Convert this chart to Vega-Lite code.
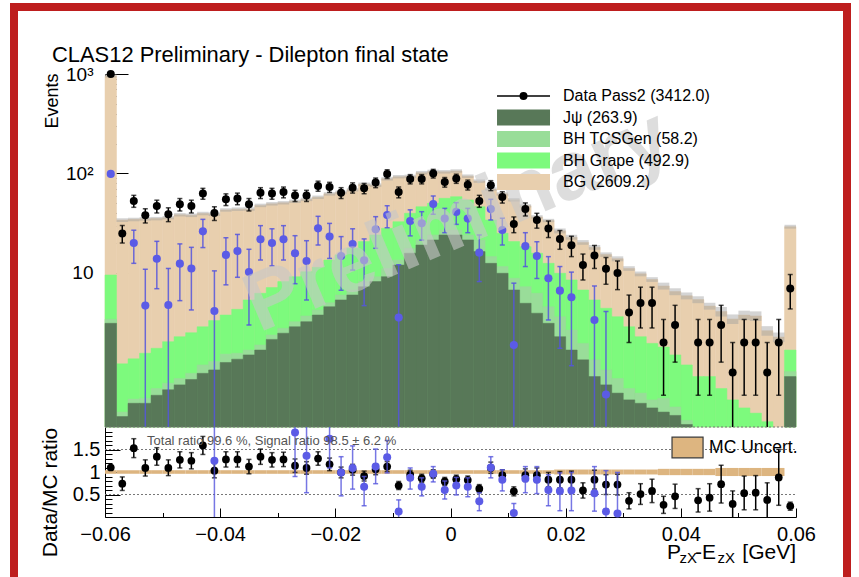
{
"$schema":"https://vega.github.io/schema/vega-lite/v6.json",
"width":833,"height":574,
"autosize":{"type":"none"},
"padding":{"left":14,"top":7,"right":12,"bottom":-4},
"background":"white",
"config":{"view":{"stroke":"#be1e1e","strokeWidth":8},"font":"Liberation Sans",
 "axis":{"domainColor":"black","tickColor":"black","labelColor":"black","titleColor":"black","labelFont":"Liberation Sans","titleFont":"Liberation Sans","titleFontWeight":"normal","grid":false,"labelFlush":false,"labelOverlap":false,"labelBound":false,"domainWidth":1,"tickWidth":1,"zindex":1}},
"datasets":{
"hist":[
{"xl":-0.06,"xh":-0.058,"c1":3.12,"c2":3.43,"c3":9.55,"c4":960,"glo":921.6,"ghi":998.4,"ulo":0.96,"uhi":1.04},
{"xl":-0.058,"xh":-0.056,"c1":0.36,"c2":0.4,"c3":1.22,"c4":34,"glo":32.6,"ghi":35.4,"ulo":0.96,"uhi":1.04},
{"xl":-0.056,"xh":-0.054,"c1":0.49,"c2":0.54,"c3":1.37,"c4":34.6,"glo":33.2,"ghi":36.0,"ulo":0.96,"uhi":1.04},
{"xl":-0.054,"xh":-0.052,"c1":0.49,"c2":0.55,"c3":1.56,"c4":35,"glo":33.6,"ghi":36.4,"ulo":0.96,"uhi":1.04},
{"xl":-0.052,"xh":-0.05,"c1":0.59,"c2":0.69,"c3":1.75,"c4":35.2,"glo":33.8,"ghi":36.6,"ulo":0.96,"uhi":1.04},
{"xl":-0.05,"xh":-0.048,"c1":0.67,"c2":0.78,"c3":2.04,"c4":36,"glo":34.6,"ghi":37.4,"ulo":0.96,"uhi":1.04},
{"xl":-0.048,"xh":-0.046,"c1":0.75,"c2":0.87,"c3":2.29,"c4":38.5,"glo":37.0,"ghi":40.0,"ulo":0.96,"uhi":1.04},
{"xl":-0.046,"xh":-0.044,"c1":0.85,"c2":0.98,"c3":2.51,"c4":38,"glo":36.5,"ghi":39.5,"ulo":0.96,"uhi":1.04},
{"xl":-0.044,"xh":-0.042,"c1":0.98,"c2":1.19,"c3":2.88,"c4":39.6,"glo":38.0,"ghi":41.2,"ulo":0.96,"uhi":1.04},
{"xl":-0.042,"xh":-0.04,"c1":1.06,"c2":1.29,"c3":3.32,"c4":39,"glo":37.4,"ghi":40.6,"ulo":0.96,"uhi":1.04},
{"xl":-0.04,"xh":-0.038,"c1":1.26,"c2":1.53,"c3":3.78,"c4":43,"glo":41.3,"ghi":44.7,"ulo":0.96,"uhi":1.04},
{"xl":-0.038,"xh":-0.036,"c1":1.36,"c2":1.56,"c3":4.31,"c4":43.8,"glo":42.0,"ghi":45.6,"ulo":0.96,"uhi":1.04},
{"xl":-0.036,"xh":-0.034,"c1":1.5,"c2":1.68,"c3":5.36,"c4":44,"glo":42.2,"ghi":45.8,"ulo":0.96,"uhi":1.04},
{"xl":-0.034,"xh":-0.032,"c1":1.68,"c2":1.89,"c3":6.25,"c4":47.8,"glo":45.9,"ghi":49.7,"ulo":0.96,"uhi":1.04},
{"xl":-0.032,"xh":-0.03,"c1":2.15,"c2":2.38,"c3":7.13,"c4":49.6,"glo":47.6,"ghi":51.6,"ulo":0.96,"uhi":1.04},
{"xl":-0.03,"xh":-0.028,"c1":2.48,"c2":2.78,"c3":8.19,"c4":50.8,"glo":48.8,"ghi":52.8,"ulo":0.96,"uhi":1.04},
{"xl":-0.028,"xh":-0.026,"c1":2.88,"c2":3.24,"c3":9.18,"c4":52.6,"glo":50.5,"ghi":54.7,"ulo":0.96,"uhi":1.04},
{"xl":-0.026,"xh":-0.024,"c1":3.24,"c2":3.7,"c3":10.3,"c4":55,"glo":52.8,"ghi":57.2,"ulo":0.96,"uhi":1.04},
{"xl":-0.024,"xh":-0.022,"c1":3.78,"c2":4.25,"c3":11.4,"c4":57.7,"glo":55.4,"ghi":60.0,"ulo":0.96,"uhi":1.04},
{"xl":-0.022,"xh":-0.02,"c1":4.58,"c2":5.03,"c3":13.5,"c4":62.4,"glo":59.9,"ghi":64.9,"ulo":0.96,"uhi":1.04},
{"xl":-0.02,"xh":-0.018,"c1":5.36,"c2":6.01,"c3":15.2,"c4":64.6,"glo":62.0,"ghi":67.2,"ulo":0.96,"uhi":1.04},
{"xl":-0.018,"xh":-0.016,"c1":6.01,"c2":6.75,"c3":17.7,"c4":68.6,"glo":65.9,"ghi":71.3,"ulo":0.96,"uhi":1.04},
{"xl":-0.016,"xh":-0.014,"c1":7.29,"c2":8.19,"c3":20.7,"c4":78,"glo":74.9,"ghi":81.1,"ulo":0.96,"uhi":1.04},
{"xl":-0.014,"xh":-0.012,"c1":8.19,"c2":9.18,"c3":24.1,"c4":76.4,"glo":73.3,"ghi":79.5,"ulo":0.96,"uhi":1.04},
{"xl":-0.012,"xh":-0.01,"c1":9.18,"c2":11.1,"c3":28.1,"c4":88.4,"glo":84.9,"ghi":91.9,"ulo":0.96,"uhi":1.04},
{"xl":-0.01,"xh":-0.008,"c1":12.0,"c2":13.5,"c3":32.8,"c4":92.9,"glo":89.2,"ghi":96.6,"ulo":0.96,"uhi":1.04},
{"xl":-0.008,"xh":-0.006,"c1":15.8,"c2":17.7,"c3":39.8,"c4":93.6,"glo":89.9,"ghi":97.3,"ulo":0.96,"uhi":1.04},
{"xl":-0.006,"xh":-0.004,"c1":19.1,"c2":21.5,"c3":46.4,"c4":102,"glo":97.9,"ghi":106.1,"ulo":0.96,"uhi":1.04},
{"xl":-0.004,"xh":-0.002,"c1":21.5,"c2":24.1,"c3":50.1,"c4":105,"glo":100.8,"ghi":109.2,"ulo":0.96,"uhi":1.04},
{"xl":-0.002,"xh":0,"c1":24.1,"c2":27.0,"c3":56.3,"c4":104,"glo":99.8,"ghi":108.2,"ulo":0.96,"uhi":1.04},
{"xl":0,"xh":0.002,"c1":24.1,"c2":27.0,"c3":58.5,"c4":106,"glo":101.8,"ghi":110.2,"ulo":0.96,"uhi":1.04},
{"xl":0.002,"xh":0.004,"c1":21.5,"c2":24.1,"c3":54.2,"c4":94,"glo":90.2,"ghi":97.8,"ulo":0.96,"uhi":1.04},
{"xl":0.004,"xh":0.006,"c1":16.4,"c2":21.5,"c3":46.4,"c4":84,"glo":80.6,"ghi":87.4,"ulo":0.96,"uhi":1.04},
{"xl":0.006,"xh":0.008,"c1":12.5,"c2":14.6,"c3":34.1,"c4":69.7,"glo":66.9,"ghi":72.5,"ulo":0.96,"uhi":1.04},
{"xl":0.008,"xh":0.01,"c1":9.93,"c2":11.6,"c3":25.1,"c4":62.4,"glo":59.9,"ghi":64.9,"ulo":0.96,"uhi":1.04},
{"xl":0.01,"xh":0.012,"c1":6.75,"c2":8.85,"c3":20.7,"c4":54.4,"glo":52.2,"ghi":56.6,"ulo":0.96,"uhi":1.04},
{"xl":0.012,"xh":0.014,"c1":4.96,"c2":7.29,"c3":18.4,"c4":47.3,"glo":45.4,"ghi":49.2,"ulo":0.96,"uhi":1.04},
{"xl":0.014,"xh":0.016,"c1":3.94,"c2":6.25,"c3":15.8,"c4":36.6,"glo":35.1,"ghi":38.1,"ulo":0.96,"uhi":1.04},
{"xl":0.016,"xh":0.018,"c1":3.12,"c2":4.58,"c3":12.5,"c4":33.7,"glo":32.4,"ghi":35.0,"ulo":0.96,"uhi":1.04},
{"xl":0.018,"xh":0.02,"c1":2.29,"c2":3.64,"c3":9.93,"c4":26.5,"glo":25.0,"ghi":28.0,"ulo":0.945,"uhi":1.055},
{"xl":0.02,"xh":0.022,"c1":1.68,"c2":2.67,"c3":8.51,"c4":22.9,"glo":21.6,"ghi":24.2,"ulo":0.945,"uhi":1.055},
{"xl":0.022,"xh":0.024,"c1":1.34,"c2":1.96,"c3":6.75,"c4":20.3,"glo":19.2,"ghi":21.4,"ulo":0.945,"uhi":1.055},
{"xl":0.024,"xh":0.026,"c1":0.91,"c2":1.34,"c3":5.36,"c4":18.1,"glo":17.1,"ghi":19.1,"ulo":0.945,"uhi":1.055},
{"xl":0.026,"xh":0.028,"c1":0.75,"c2":1.06,"c3":4.42,"c4":15.3,"glo":14.5,"ghi":16.1,"ulo":0.945,"uhi":1.055},
{"xl":0.028,"xh":0.03,"c1":0.62,"c2":0.87,"c3":3.64,"c4":13.9,"glo":13.1,"ghi":14.7,"ulo":0.945,"uhi":1.055},
{"xl":0.03,"xh":0.032,"c1":0.53,"c2":0.69,"c3":2.88,"c4":11.1,"glo":10.5,"ghi":11.7,"ulo":0.945,"uhi":1.055},
{"xl":0.032,"xh":0.034,"c1":0.49,"c2":0.62,"c3":2.29,"c4":9.8,"glo":9.26,"ghi":10.34,"ulo":0.945,"uhi":1.055},
{"xl":0.034,"xh":0.036,"c1":0.44,"c2":0.53,"c3":1.96,"c4":8.6,"glo":8.13,"ghi":9.07,"ulo":0.945,"uhi":1.055},
{"xl":0.036,"xh":0.038,"c1":0.4,"c2":0.55,"c3":1.8,"c4":7.4,"glo":6.81,"ghi":7.99,"ulo":0.93,"uhi":1.07},
{"xl":0.038,"xh":0.04,"c1":0.37,"c2":0.45,"c3":1.5,"c4":6.5,"glo":5.98,"ghi":7.02,"ulo":0.93,"uhi":1.07},
{"xl":0.04,"xh":0.042,"c1":0.3,"c2":0.33,"c3":1.19,"c4":5.9,"glo":5.43,"ghi":6.37,"ulo":0.93,"uhi":1.07},
{"xl":0.042,"xh":0.044,"c1":null,"c2":null,"c3":0.91,"c4":5.4,"glo":4.97,"ghi":5.83,"ulo":0.93,"uhi":1.07},
{"xl":0.044,"xh":0.046,"c1":null,"c2":null,"c3":0.91,"c4":4.65,"glo":4.28,"ghi":5.02,"ulo":0.93,"uhi":1.07},
{"xl":0.046,"xh":0.048,"c1":null,"c2":null,"c3":0.69,"c4":4.1,"glo":3.65,"ghi":4.55,"ulo":0.91,"uhi":1.09},
{"xl":0.048,"xh":0.05,"c1":null,"c2":null,"c3":0.53,"c4":3.45,"glo":3.07,"ghi":3.83,"ulo":0.91,"uhi":1.09},
{"xl":0.05,"xh":0.052,"c1":null,"c2":null,"c3":0.44,"c4":3.77,"glo":3.36,"ghi":4.18,"ulo":0.91,"uhi":1.09},
{"xl":0.052,"xh":0.054,"c1":null,"c2":null,"c3":0.39,"c4":3.7,"glo":3.29,"ghi":4.11,"ulo":0.91,"uhi":1.09},
{"xl":0.054,"xh":0.056,"c1":null,"c2":null,"c3":0.32,"c4":2.63,"glo":2.34,"ghi":2.92,"ulo":0.91,"uhi":1.09},
{"xl":0.056,"xh":0.058,"c1":null,"c2":null,"c3":null,"c4":2.27,"glo":2.02,"ghi":2.52,"ulo":0.91,"uhi":1.09},
{"xl":0.058,"xh":0.06,"c1":0.91,"c2":1.02,"c3":1.68,"c4":29.2,"glo":27.9,"ghi":30.5,"ulo":null,"uhi":null}
],
"pts":[
{"x":-0.059,"n":1000,"lo":968,"hi":1032,"r":1.10,"rlo":1.065,"rhi":1.135},
{"x":-0.057,"n":25,"lo":20,"hi":30,"r":0.74,"rlo":0.59,"rhi":0.89},
{"x":-0.055,"n":53,"lo":45.7,"hi":60.3,"r":1.53,"rlo":1.32,"rhi":1.74},
{"x":-0.053,"n":38,"lo":31.8,"hi":44.2,"r":1.09,"rlo":0.91,"rhi":1.27},
{"x":-0.051,"n":47,"lo":40.1,"hi":53.9,"r":1.34,"rlo":1.15,"rhi":1.54},
{"x":-0.049,"n":39,"lo":32.8,"hi":45.2,"r":1.09,"rlo":0.92,"rhi":1.27},
{"x":-0.047,"n":49,"lo":42,"hi":56,"r":1.27,"rlo":1.09,"rhi":1.45},
{"x":-0.045,"n":47,"lo":40.1,"hi":53.9,"r":1.25,"rlo":1.07,"rhi":1.43},
{"x":-0.043,"n":63,"lo":55.1,"hi":70.9,"r":1.59,"rlo":1.39,"rhi":1.79},
{"x":-0.041,"n":40,"lo":33.7,"hi":46.3,"r":1.03,"rlo":0.87,"rhi":1.19},
{"x":-0.039,"n":55,"lo":47.6,"hi":62.4,"r":1.28,"rlo":1.11,"rhi":1.45},
{"x":-0.037,"n":56,"lo":48.5,"hi":63.5,"r":1.28,"rlo":1.11,"rhi":1.45},
{"x":-0.035,"n":49,"lo":42,"hi":56,"r":1.12,"rlo":0.96,"rhi":1.28},
{"x":-0.033,"n":64,"lo":56,"hi":72,"r":1.34,"rlo":1.17,"rhi":1.51},
{"x":-0.031,"n":63,"lo":55.1,"hi":70.9,"r":1.27,"rlo":1.11,"rhi":1.43},
{"x":-0.029,"n":65,"lo":56.9,"hi":73.1,"r":1.28,"rlo":1.12,"rhi":1.44},
{"x":-0.027,"n":60,"lo":52.3,"hi":67.7,"r":1.14,"rlo":0.99,"rhi":1.29},
{"x":-0.025,"n":60,"lo":52.3,"hi":67.7,"r":1.09,"rlo":0.95,"rhi":1.23},
{"x":-0.023,"n":75,"lo":66.3,"hi":83.7,"r":1.30,"rlo":1.15,"rhi":1.45},
{"x":-0.021,"n":73,"lo":64.5,"hi":81.5,"r":1.17,"rlo":1.03,"rhi":1.31},
{"x":-0.019,"n":64,"lo":56,"hi":72,"r":0.99,"rlo":0.87,"rhi":1.11},
{"x":-0.017,"n":72,"lo":63.5,"hi":80.5,"r":1.05,"rlo":0.93,"rhi":1.17},
{"x":-0.015,"n":71,"lo":62.6,"hi":79.4,"r":0.91,"rlo":0.80,"rhi":1.02},
{"x":-0.013,"n":81,"lo":72,"hi":90,"r":1.06,"rlo":0.94,"rhi":1.18},
{"x":-0.011,"n":99,"lo":89,"hi":109,"r":1.12,"rlo":1.01,"rhi":1.23},
{"x":-0.009,"n":65,"lo":56.9,"hi":73.1,"r":0.70,"rlo":0.61,"rhi":0.79},
{"x":-0.007,"n":88,"lo":78.6,"hi":97.4,"r":0.94,"rlo":0.84,"rhi":1.04},
{"x":-0.005,"n":88,"lo":78.6,"hi":97.4,"r":0.86,"rlo":0.77,"rhi":0.95},
{"x":-0.003,"n":100,"lo":90,"hi":110,"r":0.95,"rlo":0.86,"rhi":1.05},
{"x":-0.001,"n":82,"lo":72.9,"hi":91.1,"r":0.79,"rlo":0.70,"rhi":0.88},
{"x":0.001,"n":89,"lo":79.6,"hi":98.4,"r":0.84,"rlo":0.75,"rhi":0.93},
{"x":0.003,"n":77,"lo":68.2,"hi":85.8,"r":0.82,"rlo":0.73,"rhi":0.91},
{"x":0.005,"n":53,"lo":45.7,"hi":60.3,"r":0.63,"rlo":0.54,"rhi":0.72},
{"x":0.007,"n":76,"lo":67.3,"hi":84.7,"r":1.09,"rlo":0.97,"rhi":1.22},
{"x":0.009,"n":58,"lo":50.4,"hi":65.6,"r":0.93,"rlo":0.81,"rhi":1.05},
{"x":0.011,"n":31,"lo":25.4,"hi":36.6,"r":0.57,"rlo":0.47,"rhi":0.67},
{"x":0.013,"n":44,"lo":37.4,"hi":50.6,"r":0.93,"rlo":0.79,"rhi":1.07},
{"x":0.015,"n":34,"lo":28.2,"hi":39.8,"r":0.93,"rlo":0.77,"rhi":1.09},
{"x":0.017,"n":28,"lo":22.7,"hi":33.3,"r":0.83,"rlo":0.67,"rhi":0.99},
{"x":0.019,"n":22,"lo":17.3,"hi":26.7,"r":0.83,"rlo":0.65,"rhi":1.01},
{"x":0.021,"n":19,"lo":14.6,"hi":23.4,"r":0.83,"rlo":0.64,"rhi":1.02},
{"x":0.023,"n":12,"lo":8.5,"hi":15.5,"r":0.59,"rlo":0.42,"rhi":0.76},
{"x":0.025,"n":15,"lo":11.1,"hi":18.9,"r":0.83,"rlo":0.62,"rhi":1.04},
{"x":0.027,"n":11,"lo":7.7,"hi":14.3,"r":0.72,"rlo":0.50,"rhi":0.94},
{"x":0.029,"n":10,"lo":6.8,"hi":13.2,"r":0.72,"rlo":0.49,"rhi":0.95},
{"x":0.031,"n":4,"lo":2,"hi":6,"r":0.36,"rlo":0.18,"rhi":0.54},
{"x":0.033,"n":5,"lo":2.8,"hi":7.2,"r":0.51,"rlo":0.28,"rhi":0.74},
{"x":0.035,"n":5,"lo":2.8,"hi":7.2,"r":0.58,"rlo":0.32,"rhi":0.84},
{"x":0.037,"n":2,"lo":0.59,"hi":3.41,"r":0.27,"rlo":0.08,"rhi":0.46},
{"x":0.039,"n":3,"lo":1.27,"hi":4.73,"r":0.46,"rlo":0.19,"rhi":0.73},
{"x":0.043,"n":2,"lo":0.59,"hi":3.41,"r":0.37,"rlo":0.11,"rhi":0.63},
{"x":0.045,"n":2,"lo":0.59,"hi":3.41,"r":0.43,"rlo":0.13,"rhi":0.74},
{"x":0.047,"n":3,"lo":1.27,"hi":4.73,"r":0.73,"rlo":0.31,"rhi":1.15},
{"x":0.049,"n":1,"lo":0.01,"hi":2,"r":0.29,"rlo":0,"rhi":0.58},
{"x":0.051,"n":2,"lo":0.59,"hi":3.41,"r":0.53,"rlo":0.16,"rhi":0.91},
{"x":0.053,"n":2,"lo":0.59,"hi":3.41,"r":0.54,"rlo":0.16,"rhi":0.92},
{"x":0.055,"n":1,"lo":0.01,"hi":2,"r":0.38,"rlo":0,"rhi":0.76},
{"x":0.057,"n":2,"lo":0.59,"hi":3.41,"r":0.88,"rlo":0.26,"rhi":1.5},
{"x":0.059,"n":7,"lo":4.35,"hi":9.65,"r":0.24,"rlo":0.15,"rhi":0.33}
],
"blue":[
{"x":-0.059,"v":99,"lo":99,"hi":99},
{"x":-0.055,"v":20,"lo":12.5,"hi":26.9},
{"x":-0.053,"v":4.7,"lo":0.01,"hi":10.9},
{"x":-0.051,"v":13.9,"lo":6.95,"hi":20.8},
{"x":-0.049,"v":4.77,"lo":0.01,"hi":11.1},
{"x":-0.047,"v":12.4,"lo":5.27,"hi":19.6},
{"x":-0.045,"v":11.1,"lo":4.25,"hi":18.1},
{"x":-0.043,"v":26.2,"lo":18,"hi":34.6},
{"x":-0.041,"v":4.15,"lo":0.01,"hi":10.5},
{"x":-0.039,"v":15.2,"lo":7.6,"hi":22.6},
{"x":-0.037,"v":16.6,"lo":9.05,"hi":24.4},
{"x":-0.035,"v":10.2,"lo":3.0,"hi":17.3},
{"x":-0.033,"v":21.8,"lo":13.5,"hi":29.9},
{"x":-0.031,"v":20,"lo":11.8,"hi":27.8},
{"x":-0.029,"v":21.8,"lo":13.5,"hi":29.9},
{"x":-0.027,"v":15.8,"lo":7.8,"hi":23.7},
{"x":-0.025,"v":13.2,"lo":5.35,"hi":21.1},
{"x":-0.023,"v":28.1,"lo":19.1,"hi":37.1},
{"x":-0.021,"v":23.2,"lo":14,"hi":31.5},
{"x":-0.019,"v":14.8,"lo":6.7,"hi":23.2},
{"x":-0.017,"v":19.5,"lo":10.7,"hi":27.8},
{"x":-0.015,"v":13.4,"lo":4.7,"hi":22},
{"x":-0.013,"v":27.5,"lo":17.7,"hi":36.8},
{"x":-0.011,"v":38.3,"lo":28.5,"hi":47.4},
{"x":-0.009,"v":3.56,"lo":0.01,"hi":12.1},
{"x":-0.007,"v":33.3,"lo":23.6,"hi":43.1},
{"x":-0.005,"v":31.6,"lo":21.4,"hi":41.3},
{"x":-0.003,"v":49.3,"lo":38.9,"hi":59.4},
{"x":-0.001,"v":35.2,"lo":25.4,"hi":44.6},
{"x":0.001,"v":41.1,"lo":30.8,"hi":50.9},
{"x":0.003,"v":35.2,"lo":25.4,"hi":44.6},
{"x":0.005,"v":16,"lo":8.2,"hi":24.1},
{"x":0.007,"v":44,"lo":34.1,"hi":55},
{"x":0.009,"v":27,"lo":19.1,"hi":35.5},
{"x":0.011,"v":1.89,"lo":0.01,"hi":7.9},
{"x":0.013,"v":18.6,"lo":11.6,"hi":25.4},
{"x":0.015,"v":14.8,"lo":8.8,"hi":20.6},
{"x":0.017,"v":8.84,"lo":3.37,"hi":14.6},
{"x":0.019,"v":6.64,"lo":1.75,"hi":11.6},
{"x":0.021,"v":5.7,"lo":1.17,"hi":10.2},
{"x":0.025,"v":3.37,"lo":0.01,"hi":7.4},
{"x":0.027,"v":0.6,"lo":0.01,"hi":4.1}
],
"bratio":[
{"x":-0.041,"r":1.25,"lo":0,"hi":2},
{"x":-0.027,"r":1.88,"lo":0.9,"hi":2},
{"x":-0.025,"r":1.36,"lo":0.54,"hi":2},
{"x":-0.021,"r":1.74,"lo":1.09,"hi":2},
{"x":-0.019,"r":0.99,"lo":0.47,"hi":1.34},
{"x":-0.017,"r":1.09,"lo":0.62,"hi":1.58},
{"x":-0.015,"r":0.67,"lo":0.25,"hi":0.9},
{"x":-0.013,"r":1.12,"lo":0.74,"hi":1.51},
{"x":-0.011,"r":1.33,"lo":0.98,"hi":1.7},
{"x":-0.009,"r":0.12,"lo":0,"hi":0.38},
{"x":-0.007,"r":0.87,"lo":0.62,"hi":1.09},
{"x":-0.005,"r":0.67,"lo":0.47,"hi":0.87},
{"x":-0.003,"r":0.96,"lo":0.78,"hi":1.12},
{"x":-0.001,"r":0.6,"lo":0.4,"hi":0.8},
{"x":0.001,"r":0.7,"lo":0.49,"hi":0.88},
{"x":0.003,"r":0.67,"lo":0.45,"hi":0.87},
{"x":0.005,"r":0.35,"lo":0.14,"hi":0.54},
{"x":0.007,"r":1.1,"lo":0.87,"hi":1.34},
{"x":0.009,"r":0.83,"lo":0.58,"hi":1.05},
{"x":0.011,"r":0.09,"lo":0,"hi":0.3},
{"x":0.013,"r":0.85,"lo":0.54,"hi":1.12},
{"x":0.015,"r":0.83,"lo":0.52,"hi":1.12},
{"x":0.017,"r":0.6,"lo":0.25,"hi":0.94},
{"x":0.019,"r":0.58,"lo":0.14,"hi":0.98},
{"x":0.021,"r":0.59,"lo":0.14,"hi":0.99},
{"x":0.025,"r":0.53,"lo":0.13,"hi":1.12},
{"x":0.027,"r":0.12,"lo":0,"hi":1.03},
{"x":0.029,"r":0.08,"lo":0,"hi":0.99}
],
"levels":[{"level":0.5},{"level":1.5},{"level":2}]
},
"layer":[
 {"data":{"name":"hist"},"mark":{"type":"bar","color":"#e8cfae","stroke":"#e8cfae","strokeWidth":0.5},
  "encoding":{
   "x":{"field":"xl","type":"quantitative","scale":{"type":"linear","domain":[-0.06,0.06],"range":[91,782],"nice":false,"zero":false},
     "axis":{"orient":"bottom","offset":-64,"title":null,
       "values":[-0.06,-0.055,-0.05,-0.045,-0.04,-0.035,-0.03,-0.025,-0.02,-0.015,-0.01,-0.005,0,0.005,0.01,0.015,0.02,0.025,0.03,0.035,0.04,0.045,0.05,0.055,0.06],
       "labelExpr":"indexof([-0.06,-0.04,-0.02,0,0.02,0.04,0.06], datum.value) >= 0 ? (datum.value == 0 ? '0' : format(datum.value, '.2f')) : ''",
       "labelFontSize":20,"labelPadding":16,"labelBaseline":"top",
       "tickSize":{"condition":{"test":"indexof([-0.06,-0.04,-0.02,0,0.02,0.04,0.06], datum.value) >= 0","value":-9},"value":-4.5}}},
   "x2":{"field":"xh"},
   "y":{"field":"c4","type":"quantitative","scale":{"type":"log","domain":[0.283,1000],"range":[420,67],"nice":false,"clamp":true},
     "axis":{"orient":"left","offset":-91,"title":"Events","titleFontSize":18,"titleAngle":-90,"titleAlign":"right","titleBaseline":"alphabetic","titleX":-48,"titleY":66,
       "values":[10,20,30,40,50,60,70,80,90,100,200,300,400,500,600,700,800,900,1000],
       "labelExpr":"datum.value == 10 ? '10' : datum.value == 100 ? '10²' : datum.value == 1000 ? '10³' : ''",
       "labelFontSize":19,"labelPadding":35,"labelBaseline":"middle",
       "tickSize":{"condition":{"test":"datum.value == 10 || datum.value == 100 || datum.value == 1000","value":-23},"value":-11}}},
   "y2":{"datum":0.283}}},
 {"data":{"name":"hist"},"mark":{"type":"bar","color":"#7dfa7d","stroke":"#7dfa7d","strokeWidth":0.5},
  "encoding":{"x":{"field":"xl","type":"quantitative"},"x2":{"field":"xh"},"y":{"field":"c3","type":"quantitative","scale":{"type":"log","domain":[0.283,1000],"range":[420,67],"nice":false,"clamp":true},"axis":null},"y2":{"datum":0.283}}},
 {"data":{"name":"hist"},"mark":{"type":"bar","color":"#99dd99","stroke":"#99dd99","strokeWidth":0.5},
  "encoding":{"x":{"field":"xl","type":"quantitative"},"x2":{"field":"xh"},"y":{"field":"c2","type":"quantitative","scale":{"type":"log","domain":[0.283,1000],"range":[420,67],"nice":false,"clamp":true},"axis":null},"y2":{"datum":0.283}}},
 {"data":{"name":"hist"},"mark":{"type":"bar","color":"#587858","stroke":"#587858","strokeWidth":0.5},
  "encoding":{"x":{"field":"xl","type":"quantitative"},"x2":{"field":"xh"},"y":{"field":"c1","type":"quantitative","scale":{"type":"log","domain":[0.283,1000],"range":[420,67],"nice":false,"clamp":true},"axis":null},"y2":{"datum":0.283}}},
 {"data":{"name":"hist"},"mark":{"type":"bar","color":"#a0a0a0","opacity":0.45},
  "encoding":{"x":{"field":"xl","type":"quantitative"},"x2":{"field":"xh"},"y":{"field":"glo","type":"quantitative","scale":{"type":"log","domain":[0.283,1000],"range":[420,67],"nice":false,"clamp":true},"axis":null},"y2":{"field":"ghi"}}},
 {"data":{"name":"blue"},"mark":{"type":"rule","color":"#5555dd","strokeWidth":1.5,"opacity":0.85},
  "encoding":{"x":{"field":"x","type":"quantitative"},"y":{"field":"lo","type":"quantitative","scale":{"type":"log","domain":[0.283,1000],"range":[420,67],"nice":false,"clamp":true},"axis":null},"y2":{"field":"hi"}}},
 {"data":{"name":"blue"},"transform":[{"fold":["lo","hi"],"as":["end","val"]},{"filter":"datum.val > 0.3 && datum.val < 990 && datum.val != datum.v"}],
  "mark":{"type":"tick","orient":"horizontal","size":5,"thickness":1.5,"color":"#5555dd","opacity":0.85},
  "encoding":{"x":{"field":"x","type":"quantitative"},"y":{"field":"val","type":"quantitative","scale":{"type":"log","domain":[0.283,1000],"range":[420,67],"nice":false,"clamp":true},"axis":null}}},
 {"data":{"name":"blue"},"mark":{"type":"point","filled":true,"shape":"circle","size":66,"color":"#5b5be6","opacity":1},
  "encoding":{"x":{"field":"x","type":"quantitative"},"y":{"field":"v","type":"quantitative","scale":{"type":"log","domain":[0.283,1000],"range":[420,67],"nice":false,"clamp":true},"axis":null}}},
 {"data":{"values":[{}]},"mark":{"type":"text","text":"Preliminary","fontSize":83,"fontWeight":"bold","font":"Liberation Sans","angle":-23,"align":"center","baseline":"middle","fill":"#c8c8c8","opacity":0.6},
  "encoding":{"x":{"datum":0.0012},"y":{"datum":33,"scale":{"type":"log","domain":[0.283,1000],"range":[420,67],"nice":false,"clamp":true},"axis":null}}},
 {"data":{"name":"pts"},"mark":{"type":"rule","color":"black","strokeWidth":1.5},
  "encoding":{"x":{"field":"x","type":"quantitative"},"y":{"field":"lo","type":"quantitative","scale":{"type":"log","domain":[0.283,1000],"range":[420,67],"nice":false,"clamp":true},"axis":null},"y2":{"field":"hi"}}},
 {"data":{"name":"pts"},"transform":[{"fold":["lo","hi"],"as":["end","val"]},{"filter":"datum.val > 0.3 && datum.val < 990"}],
  "mark":{"type":"tick","orient":"horizontal","size":5,"thickness":1.5,"color":"black"},
  "encoding":{"x":{"field":"x","type":"quantitative"},"y":{"field":"val","type":"quantitative","scale":{"type":"log","domain":[0.283,1000],"range":[420,67],"nice":false,"clamp":true},"axis":null}}},
 {"data":{"name":"pts"},"mark":{"type":"point","filled":true,"shape":"circle","size":64,"color":"black","opacity":1},
  "encoding":{"x":{"field":"x","type":"quantitative"},"y":{"field":"n","type":"quantitative","scale":{"type":"log","domain":[0.283,1000],"range":[420,67],"nice":false,"clamp":true},"axis":null}}},
 {"data":{"values":[{}]},"mark":{"type":"rule","color":"black","strokeWidth":1.3},
  "encoding":{"x":{"datum":0.00808},"x2":{"datum":0.01728},"y":{"datum":601,"scale":{"type":"log","domain":[0.283,1000],"range":[420,67],"nice":false,"clamp":true},"axis":null}}},
 {"data":{"values":[{}]},"mark":{"type":"point","filled":true,"shape":"circle","size":64,"color":"black","opacity":1},
  "encoding":{"x":{"datum":0.01268},"y":{"datum":601,"scale":{"type":"log","domain":[0.283,1000],"range":[420,67],"nice":false,"clamp":true},"axis":null}}},
 {"data":{"values":[{}]},"mark":{"type":"rect","color":"#587858"},
  "encoding":{"x":{"datum":0.00808},"x2":{"datum":0.01728},"y":{"datum":303.5,"scale":{"type":"log","domain":[0.283,1000],"range":[420,67],"nice":false,"clamp":true},"axis":null},"y2":{"datum":439.5}}},
 {"data":{"values":[{}]},"mark":{"type":"rect","color":"#99dd99"},
  "encoding":{"x":{"datum":0.00808},"x2":{"datum":0.01728},"y":{"datum":184.5,"scale":{"type":"log","domain":[0.283,1000],"range":[420,67],"nice":false,"clamp":true},"axis":null},"y2":{"datum":267}}},
 {"data":{"values":[{}]},"mark":{"type":"rect","color":"#7dfa7d"},
  "encoding":{"x":{"datum":0.00808},"x2":{"datum":0.01728},"y":{"datum":112.2,"scale":{"type":"log","domain":[0.283,1000],"range":[420,67],"nice":false,"clamp":true},"axis":null},"y2":{"datum":162.6}}},
 {"data":{"values":[{}]},"mark":{"type":"rect","color":"#e8cfae"},
  "encoding":{"x":{"datum":0.00808},"x2":{"datum":0.01728},"y":{"datum":68.2,"scale":{"type":"log","domain":[0.283,1000],"range":[420,67],"nice":false,"clamp":true},"axis":null},"y2":{"datum":98.9}}},
 {"data":{"values":[{}]},"mark":{"type":"text","text":"Data Pass2 (3412.0)","fontSize":16,"font":"Liberation Sans","align":"left","baseline":"middle","color":"black"},
  "encoding":{"x":{"datum":0.01954},"y":{"datum":601,"scale":{"type":"log","domain":[0.283,1000],"range":[420,67],"nice":false,"clamp":true},"axis":null}}},
 {"data":{"values":[{}]},"mark":{"type":"text","text":"Jψ (263.9)","fontSize":16,"font":"Liberation Sans","align":"left","baseline":"middle","color":"black"},
  "encoding":{"x":{"datum":0.01954},"y":{"datum":365,"scale":{"type":"log","domain":[0.283,1000],"range":[420,67],"nice":false,"clamp":true},"axis":null}}},
 {"data":{"values":[{}]},"mark":{"type":"text","text":"BH TCSGen (58.2)","fontSize":16,"font":"Liberation Sans","align":"left","baseline":"middle","color":"black"},
  "encoding":{"x":{"datum":0.01954},"y":{"datum":222,"scale":{"type":"log","domain":[0.283,1000],"range":[420,67],"nice":false,"clamp":true},"axis":null}}},
 {"data":{"values":[{}]},"mark":{"type":"text","text":"BH Grape (492.9)","fontSize":16,"font":"Liberation Sans","align":"left","baseline":"middle","color":"black"},
  "encoding":{"x":{"datum":0.01954},"y":{"datum":135,"scale":{"type":"log","domain":[0.283,1000],"range":[420,67],"nice":false,"clamp":true},"axis":null}}},
 {"data":{"values":[{}]},"mark":{"type":"text","text":"BG (2609.2)","fontSize":16,"font":"Liberation Sans","align":"left","baseline":"middle","color":"black"},
  "encoding":{"x":{"datum":0.01954},"y":{"datum":82.3,"scale":{"type":"log","domain":[0.283,1000],"range":[420,67],"nice":false,"clamp":true},"axis":null}}},
 {"data":{"name":"hist"},"mark":{"type":"bar","color":"#ddb580"},
  "encoding":{
   "x":{"field":"xl","type":"quantitative"},
   "x2":{"field":"xh"},
   "y":{"field":"ulo","type":"quantitative","scale":{"type":"linear","domain":[0,2],"range":[510,420],"nice":false,"zero":false},
     "axis":{"orient":"left","offset":-91,"title":"Data/MC ratio","titleFontSize":21,"titleAngle":-90,"titleAlign":"center","titleBaseline":"alphabetic","titleX":-49,"titleY":485,
       "values":[0.1,0.2,0.3,0.4,0.5,0.6,0.7,0.8,0.9,1,1.1,1.2,1.3,1.4,1.5,1.6,1.7,1.8,1.9],
       "labelExpr":"datum.value == 0.5 ? '0.5' : datum.value == 1 ? '1' : datum.value == 1.5 ? '1.5' : ''",
       "labelFontSize":20,"labelPadding":20,"labelBaseline":"middle",
       "tickSize":{"condition":{"test":"datum.value == 0.5 || datum.value == 1 || datum.value == 1.5","value":-15},"value":-7}}},
   "y2":{"field":"uhi"}}},
 {"data":{"name":"levels"},"mark":{"type":"rule","color":"#777777","strokeWidth":1,"strokeDash":[2,2]},
  "encoding":{"x":{"datum":-0.06},"x2":{"datum":0.06},"y":{"field":"level","type":"quantitative","scale":{"type":"linear","domain":[0,2],"range":[510,420],"nice":false,"zero":false},"axis":null}}},
 {"data":{"name":"pts"},"mark":{"type":"rule","color":"black","strokeWidth":1.5},
  "encoding":{"x":{"field":"x","type":"quantitative"},"y":{"field":"rlo","type":"quantitative","scale":{"type":"linear","domain":[0,2],"range":[510,420],"nice":false,"zero":false},"axis":null},"y2":{"field":"rhi"}}},
 {"data":{"name":"pts"},"transform":[{"fold":["rlo","rhi"],"as":["end","val"]},{"filter":"datum.val > 0.02 && datum.val < 1.98"}],
  "mark":{"type":"tick","orient":"horizontal","size":5,"thickness":1.5,"color":"black"},
  "encoding":{"x":{"field":"x","type":"quantitative"},"y":{"field":"val","type":"quantitative","scale":{"type":"linear","domain":[0,2],"range":[510,420],"nice":false,"zero":false},"axis":null}}},
 {"data":{"name":"pts"},"mark":{"type":"point","filled":true,"shape":"circle","size":60,"color":"black","opacity":1},
  "encoding":{"x":{"field":"x","type":"quantitative"},"y":{"field":"r","type":"quantitative","scale":{"type":"linear","domain":[0,2],"range":[510,420],"nice":false,"zero":false},"axis":null}}},
 {"data":{"name":"bratio"},"mark":{"type":"rule","color":"#5555dd","strokeWidth":1.5,"opacity":0.8},
  "encoding":{"x":{"field":"x","type":"quantitative"},"y":{"field":"lo","type":"quantitative","scale":{"type":"linear","domain":[0,2],"range":[510,420],"nice":false,"zero":false},"axis":null},"y2":{"field":"hi"}}},
 {"data":{"name":"bratio"},"transform":[{"fold":["lo","hi"],"as":["end","val"]},{"filter":"datum.val > 0.02 && datum.val < 1.98"}],
  "mark":{"type":"tick","orient":"horizontal","size":5,"thickness":1.5,"color":"#5555dd","opacity":0.8},
  "encoding":{"x":{"field":"x","type":"quantitative"},"y":{"field":"val","type":"quantitative","scale":{"type":"linear","domain":[0,2],"range":[510,420],"nice":false,"zero":false},"axis":null}}},
 {"data":{"name":"bratio"},"mark":{"type":"point","filled":true,"shape":"circle","size":64,"color":"#5b5be6","opacity":1},
  "encoding":{"x":{"field":"x","type":"quantitative"},"y":{"field":"r","type":"quantitative","scale":{"type":"linear","domain":[0,2],"range":[510,420],"nice":false,"zero":false},"axis":null}}},
 {"data":{"values":[{}]},"mark":{"type":"rect","color":"#ddb580","stroke":"#3a3a3a","strokeWidth":1.2},
  "encoding":{"x":{"datum":0.03847},"x2":{"datum":0.04386},"y":{"datum":1.315,"scale":{"type":"linear","domain":[0,2],"range":[510,420],"nice":false,"zero":false},"axis":null},"y2":{"datum":1.773}}},
 {"data":{"values":[{}]},"mark":{"type":"text","text":"MC Uncert.","fontSize":17.5,"font":"Liberation Sans","align":"left","baseline":"middle","color":"black"},
  "encoding":{"x":{"datum":0.0449},"y":{"datum":1.544,"scale":{"type":"linear","domain":[0,2],"range":[510,420],"nice":false,"zero":false},"axis":null}}},
 {"data":{"values":[{}]},"mark":{"type":"text","text":"Total ratio 99.6 %, Signal ratio 98.5 ± 6.2 %","fontSize":13,"font":"Liberation Sans","align":"left","baseline":"middle","color":"#555555"},
  "encoding":{"x":{"datum":-0.0527},"y":{"datum":1.7,"scale":{"type":"linear","domain":[0,2],"range":[510,420],"nice":false,"zero":false},"axis":null}}},
 {"data":{"values":[{}]},"mark":{"type":"text","text":"CLAS12 Preliminary - Dilepton final state","fontSize":21.9,"font":"Liberation Sans","align":"left","baseline":"alphabetic","color":"black"},
  "encoding":{"x":{"datum":-0.0692},"y":{"datum":10.11,"scale":{"type":"linear","domain":[0,2],"range":[510,420],"nice":false,"zero":false},"axis":null}}},
 {"data":{"values":[{}]},"mark":{"type":"text","text":"P","fontSize":21,"font":"Liberation Sans","align":"right","baseline":"alphabetic","color":"black","dx":-115},
  "encoding":{"x":{"datum":0.06},"y":{"datum":-0.933,"scale":{"type":"linear","domain":[0,2],"range":[510,420],"nice":false,"zero":false},"axis":null}}},
 {"data":{"values":[{}]},"mark":{"type":"text","text":"zX","fontSize":15,"font":"Liberation Sans","align":"right","baseline":"alphabetic","color":"black","dx":-99,"dy":4},
  "encoding":{"x":{"datum":0.06},"y":{"datum":-0.933,"scale":{"type":"linear","domain":[0,2],"range":[510,420],"nice":false,"zero":false},"axis":null}}},
 {"data":{"values":[{}]},"mark":{"type":"text","text":"-E","fontSize":21,"font":"Liberation Sans","align":"right","baseline":"alphabetic","color":"black","dx":-80},
  "encoding":{"x":{"datum":0.06},"y":{"datum":-0.933,"scale":{"type":"linear","domain":[0,2],"range":[510,420],"nice":false,"zero":false},"axis":null}}},
 {"data":{"values":[{}]},"mark":{"type":"text","text":"zX","fontSize":15,"font":"Liberation Sans","align":"right","baseline":"alphabetic","color":"black","dx":-61,"dy":4},
  "encoding":{"x":{"datum":0.06},"y":{"datum":-0.933,"scale":{"type":"linear","domain":[0,2],"range":[510,420],"nice":false,"zero":false},"axis":null}}},
 {"data":{"values":[{}]},"mark":{"type":"text","text":"[GeV]","fontSize":21,"font":"Liberation Sans","align":"right","baseline":"alphabetic","color":"black"},
  "encoding":{"x":{"datum":0.06},"y":{"datum":-0.933,"scale":{"type":"linear","domain":[0,2],"range":[510,420],"nice":false,"zero":false},"axis":null}}}
],
"resolve":{"scale":{"y":"independent"},"axis":{"y":"independent"}}
}
